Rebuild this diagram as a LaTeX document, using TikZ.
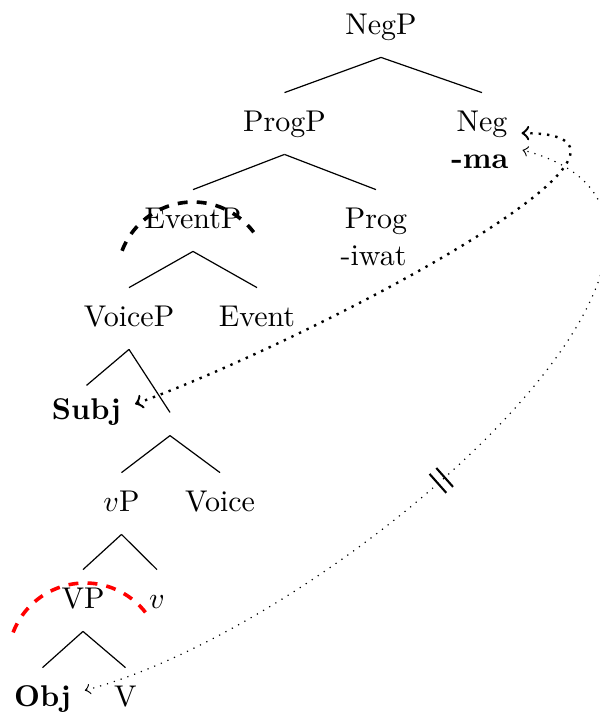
\documentclass[tikz,border=0pt]{standalone}
\begin{document}
\begin{tikzpicture}[x=0.33333pt, y=-0.33333pt,
  tn/.style={text height=7pt, text depth=2pt, inner xsep=4.5pt, inner ysep=5.6pt, anchor=base},
  branch/.style={line width=0.4pt},
  arcmark/.style={very thick, dash pattern=on 3.3pt off 3.05pt},
  bigarrow/.style={<->, thick, dotted},
  smallarrow/.style={<->, dotted},
]
\useasboundingbox (0,0) rectangle (600,713);
% nodes
\node[tn] (negp)  at (381,34)   {NegP};
\node[tn] (progp) at (284.5,131) {ProgP};
\node[tn] (neg)   at (482,131)  {Neg};
\node[tn] (ma)    at (480,168)  {\textbf{-ma}};
\node[tn] (eventp) at (193,228) {EventP};
\node[tn] (prog)  at (376,228)  {Prog};
\node[tn] (iwat)  at (373.5,265) {-iwat};
\node[tn] (voicep) at (129,326) {VoiceP};
\node[tn] (event) at (257,326)  {Event};
\node[tn, inner ysep=4pt] (subj) at (86.5,419) {\textbf{Subj}};
\node[inner sep=0pt, minimum height=7.33pt, minimum width=0pt] (vbar) at (170,424) {};
\node[tn] (vp)    at (121.5,511) {$v$P};
\node[tn] (voice) at (220,511)  {Voice};
\node[tn] (VP)    at (83,608)   {VP};
\node[tn] (vhead) at (157,608)  {$v$};
\node[tn] (obj)   at (42.5,706) {\textbf{Obj}};
\node[tn] (V)     at (125.5,706) {V};
% branches
\draw[branch] (negp.south) -- (progp.north);
\draw[branch] (negp.south) -- (neg.north);
\draw[branch] (progp.south) -- (eventp.north);
\draw[branch] (progp.south) -- (prog.north);
\draw[branch] (eventp.south) -- (voicep.north);
\draw[branch] (eventp.south) -- (event.north);
\draw[branch] (voicep.south) -- (subj.north);
\draw[branch] (voicep.south) -- (vbar.north);
\draw[branch] (vbar.south) -- (vp.north);
\draw[branch] (vbar.south) -- (voice.north);
\draw[branch] (vp.south) -- (VP.north);
\draw[branch] (vp.south) -- (vhead.north);
\draw[branch] (VP.south) -- (obj.north);
\draw[branch] (VP.south) -- (V.north);
% dashed arcs
\draw[arcmark] (eventp.base) ++(0,50) ++(-159:76) arc[start angle=-159, end angle=-37, radius=76];
\draw[arcmark, red] (VP.base) ++(2,52) ++(-159:77) arc[start angle=-159, end angle=-37, radius=77];
% movement arrows
\draw[bigarrow] ([yshift=2.5pt]subj.east) .. controls +(174,-63) and +(185,0) .. ([yshift=-3.2pt]neg.east);
\draw[smallarrow] ([yshift=2.7pt]obj.east) .. controls +(261,-70) and +(270,72) .. ([yshift=3.5pt]ma.east)
  node[sloped, pos=0.415, inner sep=0pt, minimum width=2.6pt, minimum height=8pt] (brk) {};
\draw[line width=0.7pt] (brk.north west) -- (brk.south west) (brk.north east) -- (brk.south east);
\end{tikzpicture}
\end{document}
